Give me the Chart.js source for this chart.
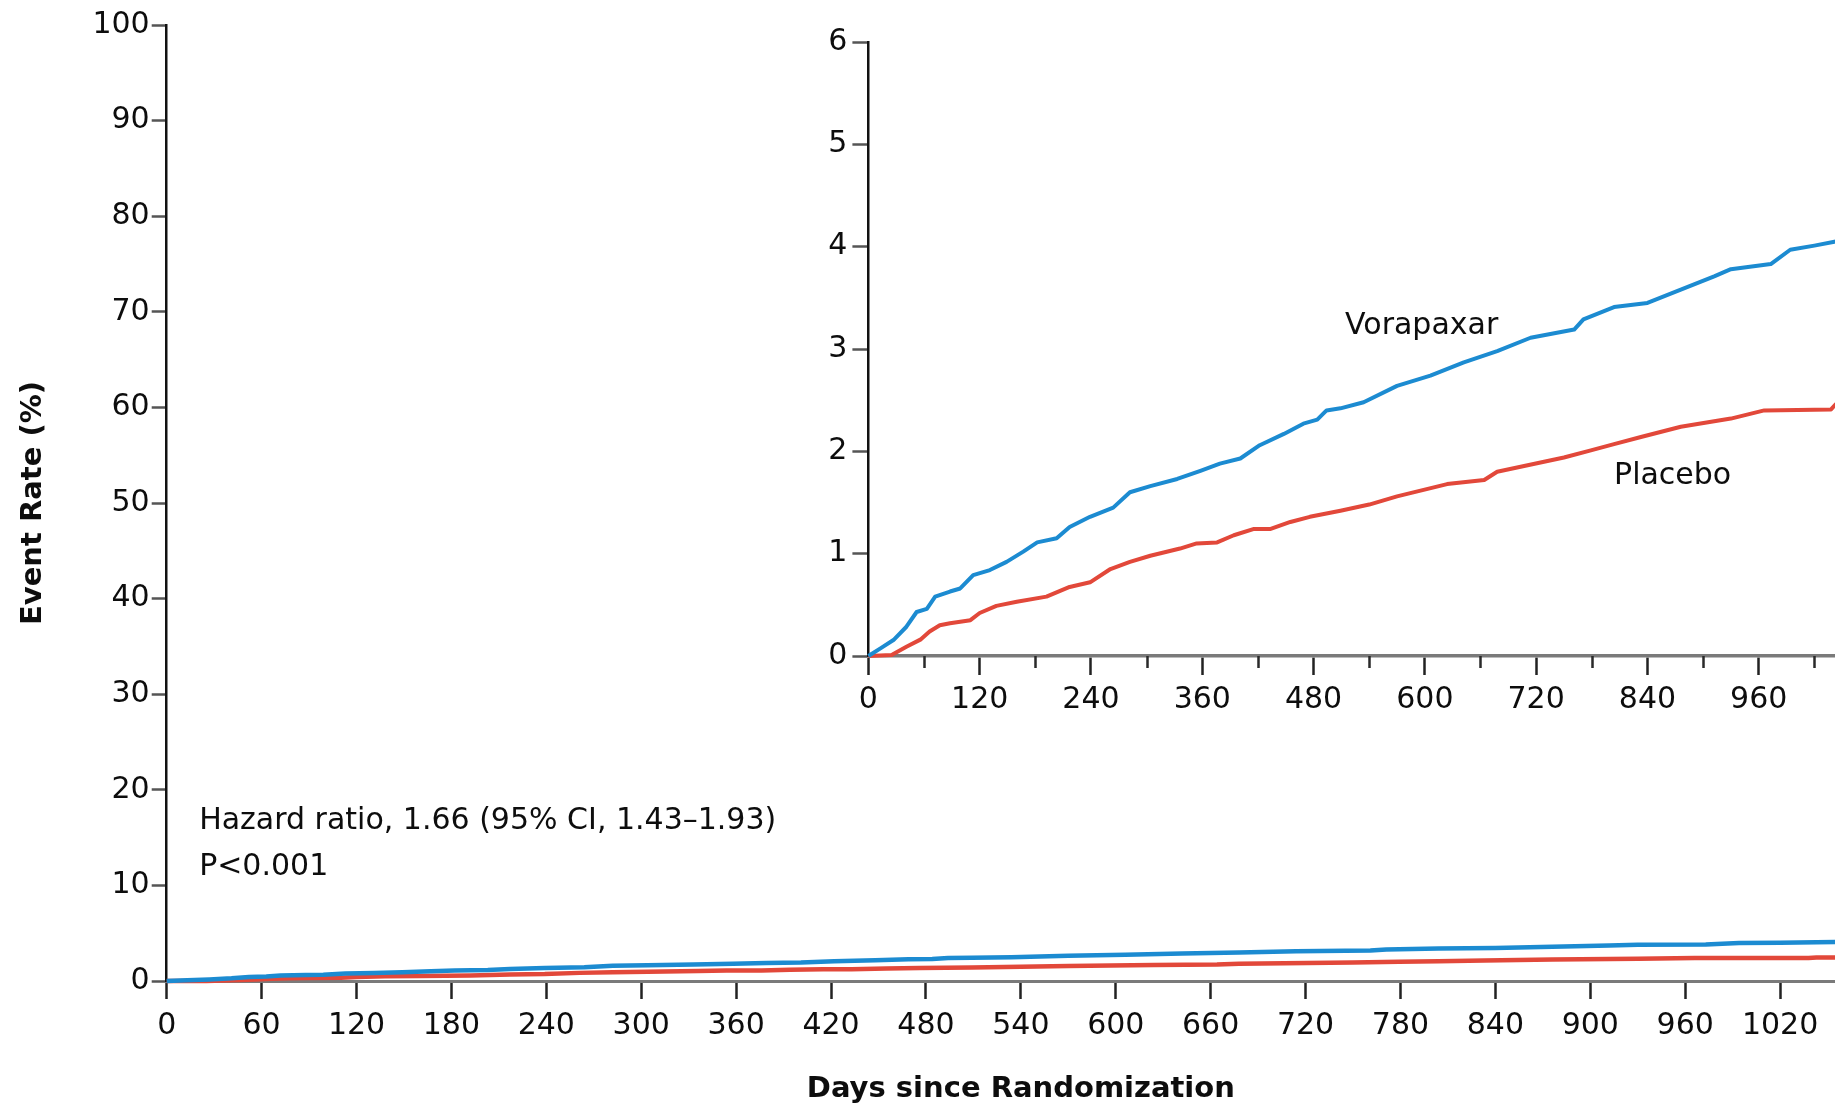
<!DOCTYPE html>
<html>
<head>
<meta charset="utf-8">
<title>Event rate, vorapaxar vs placebo</title>
<script src="https://cdn.jsdelivr.net/npm/chart.js@4.4.1/dist/chart.umd.min.js"></script>
<style>
  html, body { margin: 0; padding: 0; width: 1835px; height: 1108px; overflow: hidden; background: #fff; }
  #main { position: absolute; left: 0; top: 0; }
  #inset { position: absolute; left: 700px; top: 0; }
</style>
</head>
<body>
<canvas id="main" width="1875" height="1108"></canvas>
<canvas id="inset" width="1170" height="740"></canvas>
<script>
// cumulative event rate (%)
const vorapaxarDays = [0, 13, 27, 41, 52, 63, 72, 88, 99, 113, 131, 149, 167, 182, 203, 217, 239, 264, 282, 304,
  333, 358, 379, 401, 422, 448, 469, 484, 494, 509, 534, 570, 606, 642, 678, 714, 761, 771, 804, 840,
  876, 912, 930, 973, 994, 1020, 1043, 1055];
const vorapaxarRate = [0, 0.075, 0.156, 0.286, 0.43, 0.46, 0.58, 0.63, 0.66, 0.79, 0.84, 0.92, 1.02, 1.11, 1.15, 1.26, 1.36, 1.45, 1.60, 1.66,
  1.73, 1.81, 1.88, 1.93, 2.06, 2.17, 2.27, 2.31, 2.40, 2.42, 2.48, 2.64, 2.74, 2.87, 2.98, 3.11, 3.19, 3.29, 3.41, 3.45,
  3.58, 3.71, 3.78, 3.83, 3.97, 4.01, 4.05, 4.07];

const placeboDays = [0, 25, 41, 56, 66, 77, 88, 110, 120, 138, 160, 192, 217, 239, 261, 282, 304, 336, 354, 376,
  394, 415, 433, 455, 476, 509, 540, 570, 624, 664, 678, 750, 779, 804, 833, 876, 930, 966, 1038, 1043, 1055];
const placeboRate = [0, 0.01, 0.09, 0.16, 0.24, 0.30, 0.32, 0.35, 0.42, 0.49, 0.53, 0.58, 0.675, 0.72, 0.85, 0.92, 0.98, 1.05, 1.10, 1.11,
  1.18, 1.24, 1.24, 1.31, 1.36, 1.42, 1.48, 1.56, 1.68, 1.72, 1.80, 1.94, 2.01, 2.07, 2.14, 2.24, 2.32, 2.40, 2.41, 2.46, 2.47];

const mainXTicks = [0, 60, 120, 180, 240, 300, 360, 420, 480, 540, 600, 660, 720, 780, 840, 900, 960, 1020];
const mainYTicks = [0, 10, 20, 30, 40, 50, 60, 70, 80, 90, 100];
const insetXTicks = [0, 120, 240, 360, 480, 600, 720, 840, 960];
const insetXMinor = [60, 180, 300, 420, 540, 660, 780, 900, 1020];
const insetYTicks = [0, 1, 2, 3, 4, 5, 6];

const BLUE = '#1c8bd1';
const RED = '#e2483a';
const INK = '#0d0d0d';
const FONT = 'DejaVu Sans';

const toPoints = (days, rates) => days.map((d, i) => ({ x: d, y: rates[i] }));
const setTicks = values => scale => { scale.ticks = values.map(v => ({ value: v })); };
const plain = v => String(v);   // no thousands separator (1020, not 1,020)

function curves(width) {
    const common = { borderWidth: width, pointRadius: 0, tension: 0, clip: false, borderJoinStyle: 'round', fill: false };
    return [
        { ...common, label: 'Vorapaxar', data: toPoints(vorapaxarDays, vorapaxarRate), borderColor: BLUE },
        { ...common, label: 'Placebo', data: toPoints(placeboDays, placeboRate), borderColor: RED },
    ];
}

// free text placed at data coordinates (day, rate), alphabetic baseline
const textLabels = items => ({
    id: 'textLabels',
    afterDatasetsDraw(chart) {
        const { ctx, scales: { x, y } } = chart;
        ctx.save();
        ctx.fillStyle = INK;
        ctx.font = `30px "${FONT}"`;
        ctx.textAlign = 'left';
        ctx.textBaseline = 'alphabetic';
        items.forEach(t => ctx.fillText(t.text, x.getPixelForValue(t.day), y.getPixelForValue(t.rate)));
        ctx.restore();
    }
});

// short unlabelled ticks between the labelled ones on the inset
const minorTicks = {
    id: 'minorTicks',
    afterDraw(chart) {
        const { ctx, scales: { x } } = chart;
        ctx.save();
        ctx.strokeStyle = '#2a2a2a';
        ctx.lineWidth = 2.5;
        ctx.beginPath();
        insetXMinor.forEach(v => {
            const px = Math.round(x.getPixelForValue(v)) + 0.5;
            ctx.moveTo(px, x.top);
            ctx.lineTo(px, x.top + 12);
        });
        ctx.stroke();
        ctx.restore();
    }
};

const tickFont = { family: FONT, size: 30 };
const titleFont = { family: FONT, size: 29, weight: 'bold' };
const baseOptions = {
    responsive: false,
    animation: false,
    events: [],
    plugins: { legend: { display: false }, tooltip: { enabled: false } },
};

new Chart(document.getElementById('main'), {
    type: 'line',
    data: { datasets: curves(4.5) },
    options: {
        ...baseOptions,
        layout: { padding: { top: 25, left: 0, right: 0, bottom: 0 } },
        scales: {
            x: {
                type: 'linear', min: 0, max: 1080,
                afterBuildTicks: setTicks(mainXTicks),
                afterFit: s => { s.height = 127; },
                ticks: { font: tickFont, color: INK, padding: 9, maxRotation: 0, autoSkip: false, callback: plain },
                grid: { drawOnChartArea: false, drawTicks: true, tickLength: 18, tickColor: '#222', tickWidth: 2.5 },
                border: { display: true, color: '#7a7a7a', width: 3 },
                title: { display: true, text: 'Days since Randomization', font: titleFont, color: INK, padding: { top: 0, bottom: 1 } },
            },
            y: {
                min: 0, max: 100,
                afterBuildTicks: setTicks(mainYTicks),
                afterFit: s => { s.width = 166.7; },
                ticks: { font: tickFont, color: INK, padding: 2, callback: plain },
                grid: { drawOnChartArea: false, drawTicks: true, tickLength: 15, tickColor: '#555', tickWidth: 2.5 },
                border: { display: true, color: '#111', width: 2.5 },
                title: { display: true, text: 'Event Rate (%)', font: titleFont, color: INK, padding: { top: 16, bottom: 0 } },
            },
        },
    },
    plugins: [textLabels([
        { text: 'Hazard ratio, 1.66 (95% CI, 1.43\u20131.93)', day: 20.5, rate: 15.9 },
        { text: 'P<0.001', day: 20.5, rate: 11.1 },
    ])],
});

new Chart(document.getElementById('inset'), {
    type: 'line',
    data: { datasets: curves(4) },
    options: {
        ...baseOptions,
        layout: { padding: { top: 42, left: 0, right: 0, bottom: 0 } },
        scales: {
            x: {
                type: 'linear', min: 0, max: 1080,
                afterBuildTicks: setTicks(insetXTicks),
                afterFit: s => { s.height = 84; },
                ticks: { font: tickFont, color: INK, padding: 7, maxRotation: 0, autoSkip: false, callback: plain },
                grid: { drawOnChartArea: false, drawTicks: true, tickLength: 19, tickColor: '#222', tickWidth: 2.5 },
                border: { display: true, color: '#7a7a7a', width: 3.5 },
            },
            y: {
                min: 0, max: 6,
                afterBuildTicks: setTicks(insetYTicks),
                afterFit: s => { s.width = 168.4; },
                ticks: { font: tickFont, color: INK, padding: 5, callback: plain },
                grid: { drawOnChartArea: false, drawTicks: true, tickLength: 16, tickColor: '#555', tickWidth: 2.5 },
                border: { display: true, color: '#111', width: 2.5 },
            },
        },
    },
    plugins: [minorTicks, textLabels([
        { text: 'Vorapaxar', day: 514, rate: 3.15 },
        { text: 'Placebo', day: 804, rate: 1.68 },
    ])],
});
</script>
</body>
</html>
